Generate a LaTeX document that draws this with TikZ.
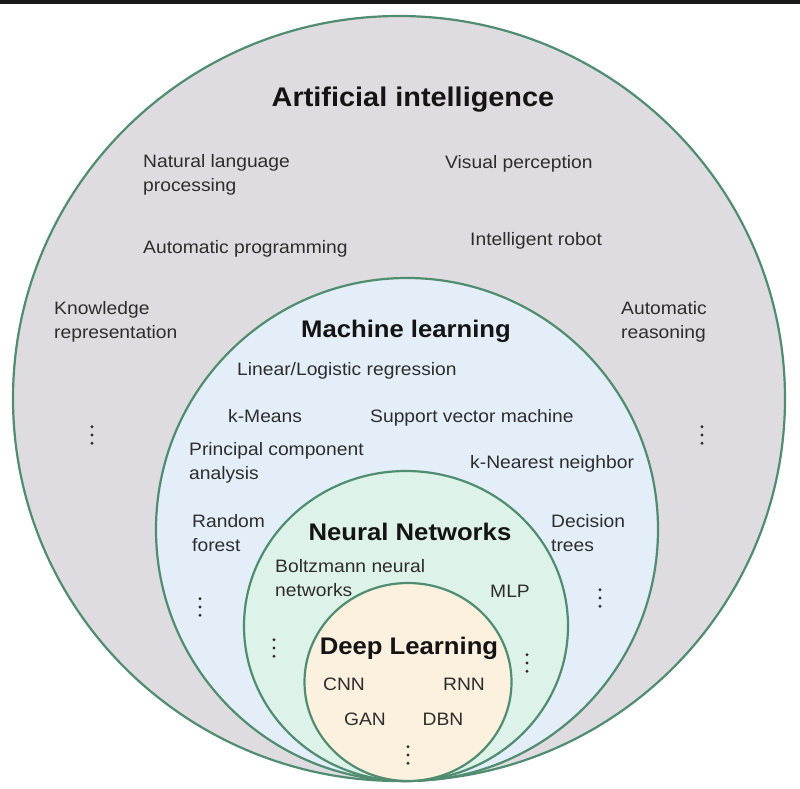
\documentclass[tikz,border=0pt]{standalone}
\usepackage{fontspec}
\setmainfont[FakeStretch=1.07]{Liberation Sans}
\usetikzlibrary{shapes.geometric}
\definecolor{ring}{RGB}{80,140,112}
\definecolor{aifill}{RGB}{222,220,224}
\definecolor{mlfill}{RGB}{227,238,248}
\definecolor{nnfill}{RGB}{221,242,232}
\definecolor{dlfill}{RGB}{252,240,222}
\definecolor{txt}{RGB}{45,45,45}
\begin{document}
\begin{tikzpicture}[x=1pt,y=-1pt,
  zone/.style={ellipse, draw=ring, line width=2.2pt, inner sep=0pt},
  lbl/.style={font=\fontsize{18}{23.5}\selectfont, text=txt, inner sep=0pt, anchor=base west, align=left},
  ttl/.style={font=\fontsize{24}{28}\selectfont\bfseries, text=black!92, inner sep=0pt, anchor=base},
  dotty/.style={circle, fill=txt, minimum size=3.3pt, inner sep=0pt}]
\useasboundingbox (0,0) rectangle (800,789);
\fill[white] (0,0) rectangle (800,789);
\fill[black!90] (0,0) rectangle (800,4);
% nested zones
\node[zone, fill=aifill, minimum width=772pt, minimum height=765pt] (ai) at (399,398.5) {};
\node[zone, fill=mlfill, minimum width=502pt, minimum height=503pt] (ml) at (407,529.5) {};
\node[zone, fill=nnfill, minimum width=324pt, minimum height=310pt] (nn) at (406,626) {};
\node[zone, fill=dlfill, minimum width=207pt, minimum height=198pt] (dl) at (408,682) {};
% titles
\node[ttl, font=\fontsize{27}{30}\selectfont\bfseries] (tai) at (413,107) {Artificial intelligence};
\node[ttl] (tml) at (406,337) {Machine learning};
\node[ttl] (tnn) at (410,540) {Neural Networks};
\node[ttl] (tdl) at (409,654) {Deep Learning};
% AI items (two-line labels are placed by their last baseline)
\node[lbl] (nlp) at (143,191) {Natural language\\processing};
\node[lbl] (vp) at (445,168) {Visual perception};
\node[lbl] (ap) at (143,253) {Automatic programming};
\node[lbl] (ir) at (470,245) {Intelligent robot};
\node[lbl] (kr) at (54,338) {Knowledge\\representation};
\node[lbl] (ar) at (621,338) {Automatic\\reasoning};
% ML items
\node[lbl] (llr) at (237,375) {Linear/Logistic regression};
\node[lbl] (km) at (228,422) {k-Means};
\node[lbl] (svm) at (370,422) {Support vector machine};
\node[lbl] (pca) at (189,479) {Principal component\\analysis};
\node[lbl] (knn) at (470,468) {k-Nearest neighbor};
\node[lbl] (rf) at (192,551) {Random\\forest};
\node[lbl] (dt) at (551,551) {Decision\\trees};
% NN items
\node[lbl] (bnn) at (275,596) {Boltzmann neural\\networks};
\node[lbl] (mlp) at (490,597) {MLP};
% DL items
\node[lbl, anchor=base] (cnn) at (344,690) {CNN};
\node[lbl, anchor=base] (rnn) at (464,690) {RNN};
\node[lbl, anchor=base] (gan) at (365,725) {GAN};
\node[lbl, anchor=base] (dbn) at (443,725) {DBN};
% vertical ellipses
\foreach \n/\x/\y in {aiL/92/435, aiR/702/435, mlL/200/607, mlR/600/598, nnL/274/648, nnR/527/663, dlM/408/755}{
  \node[dotty] (\n-1) at (\x,\y-8.3) {};
  \node[dotty] (\n-2) at (\x,\y) {};
  \node[dotty] (\n-3) at (\x,\y+8.3) {};
}
\end{tikzpicture}
\end{document}
